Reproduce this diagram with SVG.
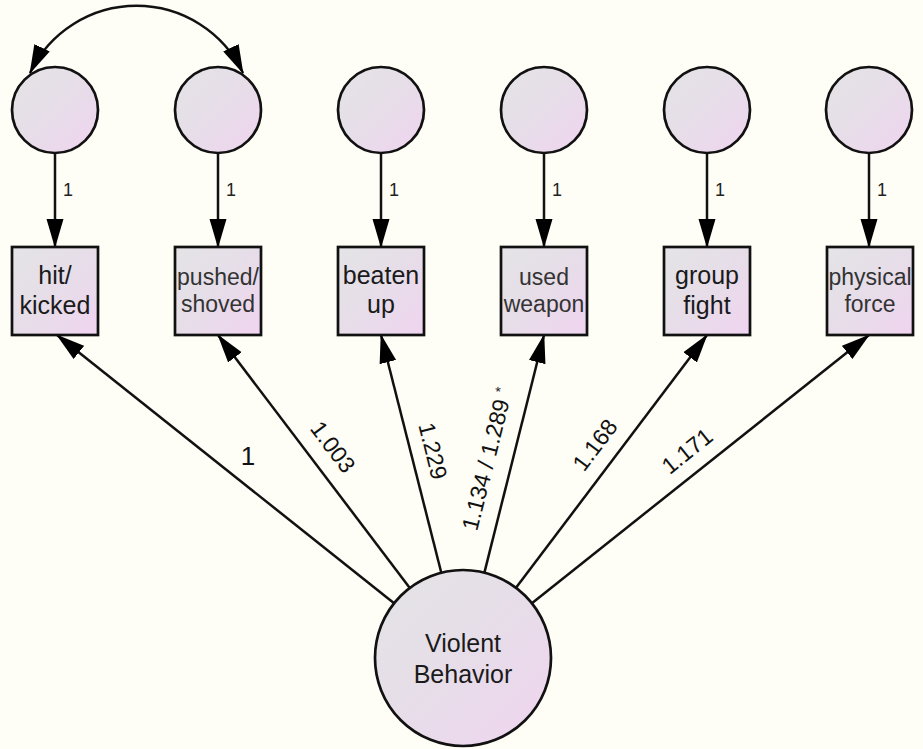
<svg xmlns="http://www.w3.org/2000/svg" width="923" height="749" viewBox="0 0 923 749">
<defs>
<linearGradient id="fill" x1="0" y1="0" x2="1" y2="1">
<stop offset="0" stop-color="#e4e4e6"/>
<stop offset="0.45" stop-color="#e6dee8"/>
<stop offset="1" stop-color="#f0d4f0"/>
</linearGradient>
<marker id="arr" markerUnits="userSpaceOnUse" markerWidth="29" markerHeight="18" refX="28" refY="9" orient="auto-start-reverse" viewBox="0 0 29 18">
<path d="M0,0.5 L29,9 L0,17.5 z" fill="#000"/>
</marker>
<style>
.shape{fill:url(#fill);stroke:#111;stroke-width:2.7}
.line{fill:none;stroke:#111;stroke-width:2.5;marker-end:url(#arr)}
.lbl{font-family:"Liberation Sans",Arial,sans-serif;fill:#111;text-anchor:middle}
.box{font-size:25px;fill:#1a1a1a}
.boxl{font-size:23px;fill:#333}
.one{font-size:18px;fill:#222}
.load{font-size:23px;fill:#111}
</style>
</defs>
<rect width="923" height="749" fill="#fefef6"/>

<g id="connectors">
<path class="line" d="M30,73 A118,118 0 0 1 243,73" style="marker-start:url(#arr)"/>
<line class="line" x1="55" y1="153" x2="55" y2="247"/>
<line class="line" x1="218" y1="153" x2="218" y2="247"/>
<line class="line" x1="381" y1="153" x2="381" y2="247"/>
<line class="line" x1="544" y1="153" x2="544" y2="247"/>
<line class="line" x1="707" y1="153" x2="707" y2="247"/>
<line class="line" x1="869" y1="153" x2="869" y2="247"/>
<line class="line" x1="394.1" y1="603.2" x2="57" y2="335"/>
<line class="line" x1="409.8" y1="587.9" x2="218" y2="335"/>
<line class="line" x1="441.3" y1="572.7" x2="381" y2="335"/>
<line class="line" x1="484.4" y1="572.6" x2="544" y2="335"/>
<line class="line" x1="516.0" y1="587.8" x2="707" y2="335"/>
<line class="line" x1="531.9" y1="603.2" x2="869" y2="335"/>
<text class="lbl one" x="68" y="196">1</text>
<text class="lbl one" x="231" y="196">1</text>
<text class="lbl one" x="394" y="196">1</text>
<text class="lbl one" x="557" y="196">1</text>
<text class="lbl one" x="720" y="196">1</text>
<text class="lbl one" x="882" y="196">1</text>
<text class="lbl load" x="248" y="465" style="font-size:26px">1</text>
<text class="lbl load" transform="translate(333,447) rotate(53)" y="8">1.003</text>
<text class="lbl load" transform="translate(433,451) rotate(76)" y="8">1.229</text>
<text class="lbl load" transform="translate(487,459) rotate(-76)" y="8">1.134 / 1.289 <tspan font-size="14" dy="-7">*</tspan></text>
<text class="lbl load" transform="translate(595,445) rotate(-53)" y="8">1.168</text>
<text class="lbl load" transform="translate(687,451) rotate(-39)" y="8">1.171</text>
</g>

<g id="e1"><circle class="shape" cx="55" cy="110" r="43"/></g>
<g id="e2"><circle class="shape" cx="218" cy="110" r="43"/></g>
<g id="e3"><circle class="shape" cx="381" cy="110" r="43"/></g>
<g id="e4"><circle class="shape" cx="544" cy="110" r="43"/></g>
<g id="e5"><circle class="shape" cx="707" cy="110" r="43"/></g>
<g id="e6"><circle class="shape" cx="869" cy="110" r="43"/></g>

<g id="hit-kicked"><rect class="shape" x="12" y="247" width="86" height="88"/>
<text class="lbl box" x="55" y="284">hit/</text><text class="lbl box" x="55" y="314">kicked</text></g>
<g id="pushed-shoved"><rect class="shape" x="175" y="247" width="86" height="88"/>
<text class="lbl boxl" x="218" y="285">pushed/</text><text class="lbl boxl" x="218" y="312">shoved</text></g>
<g id="beaten-up"><rect class="shape" x="338" y="247" width="86" height="88"/>
<text class="lbl box" x="381" y="284">beaten</text><text class="lbl box" x="381" y="313">up</text></g>
<g id="used-weapon"><rect class="shape" x="501" y="247" width="86" height="88"/>
<text class="lbl boxl" x="544" y="285">used</text><text class="lbl boxl" x="544" y="312">weapon</text></g>
<g id="group-fight"><rect class="shape" x="664" y="247" width="86" height="88"/>
<text class="lbl box" x="707" y="284">group</text><text class="lbl box" x="707" y="314">fight</text></g>
<g id="physical-force"><rect class="shape" x="827" y="247" width="86" height="88"/>
<text class="lbl boxl" x="870" y="285">physical</text><text class="lbl boxl" x="870" y="312">force</text></g>

<g id="violent-behavior"><circle class="shape" cx="463" cy="658" r="88"/>
<text class="lbl box" x="463" y="652">Violent</text><text class="lbl box" x="463" y="683">Behavior</text></g>
</svg>
